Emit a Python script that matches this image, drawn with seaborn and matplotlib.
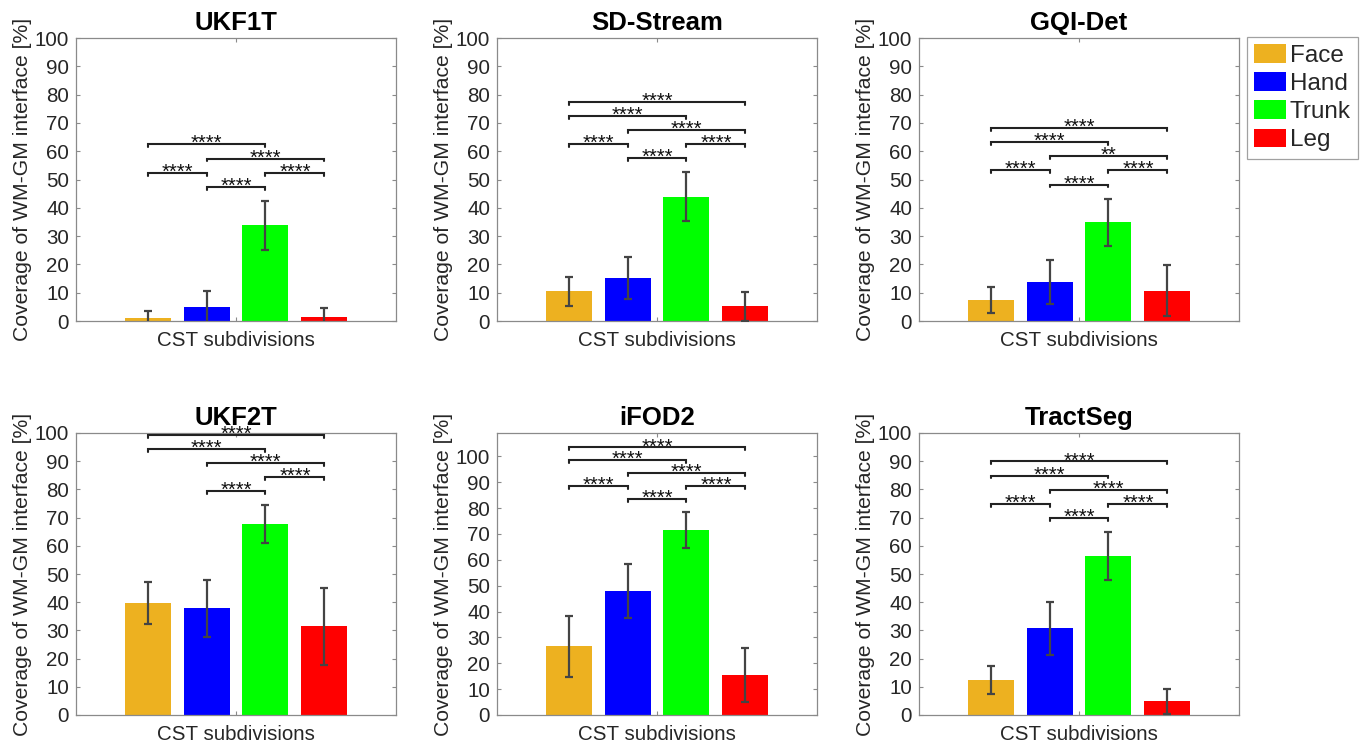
import numpy as np
import pandas as pd
import matplotlib
matplotlib.use("Agg")
import matplotlib.pyplot as plt
from matplotlib.patches import Patch
import seaborn as sns

# ---------------- data ----------------
parts = ["Face", "Hand", "Trunk", "Leg"]
colors = ["#EDB120", "#0000FF", "#00FF00", "#FF0000"]
methods = ["UKF1T", "SD-Stream", "GQI-Det", "UKF2T", "iFOD2", "TractSeg"]

ukf1t_mean = [1.1, 4.8, 33.8, 1.4]
ukf1t_std = [2.3, 5.7, 8.6, 3.2]
sdstream_mean = [10.5, 15.2, 43.9, 5.2]
sdstream_std = [5.1, 7.4, 8.6, 5.1]
gqidet_mean = [7.4, 13.7, 34.9, 10.7]
gqidet_std = [4.7, 7.7, 8.3, 9.1]
ukf2t_mean = [39.8, 37.8, 67.7, 31.5]
ukf2t_std = [7.5, 10.1, 6.6, 13.7]
ifod2_mean = [26.6, 47.9, 71.4, 15.4]
ifod2_std = [11.8, 10.4, 7.0, 10.4]
tractseg_mean = [12.4, 30.7, 56.3, 4.8]
tractseg_std = [5.1, 9.3, 8.6, 4.4]

# comparisons: (i, j) pairs and significance labels per method
pairs = [(0, 1), (1, 2), (2, 3), (1, 3), (0, 2), (0, 3)]
ukf1t_sig = ["****", "****", "****", "****", "****", ""]
sdstream_sig = ["****", "****", "****", "****", "****", "****"]
gqidet_sig = ["****", "****", "****", "**", "****", "****"]
ukf2t_sig = ["", "****", "****", "****", "****", "****"]
ifod2_sig = ["****", "****", "****", "****", "****", "****"]
tractseg_sig = ["****", "****", "****", "****", "****", "****"]

y_max = [100, 100, 100, 100, 109, 100]
y_ticks = list(range(0, 101, 10))
xlabel = "CST subdivisions"
ylabel = "Coverage of WM-GM interface [%]"

means = [ukf1t_mean, sdstream_mean, gqidet_mean, ukf2t_mean, ifod2_mean, tractseg_mean]
stds = [ukf1t_std, sdstream_std, gqidet_std, ukf2t_std, ifod2_std, tractseg_std]
sigs = [ukf1t_sig, sdstream_sig, gqidet_sig, ukf2t_sig, ifod2_sig, tractseg_sig]

# ---------------- style ----------------
sns.set_theme(style="white")
plt.rcParams["font.family"] = ["Liberation Sans", "DejaVu Sans"]
plt.rcParams["axes.edgecolor"] = "#8a8a8a"
plt.rcParams["axes.linewidth"] = 0.9

fig = plt.figure(figsize=(13.64, 7.48), dpi=100)
W, H = 1364.0, 748.0
lefts = [76, 497, 919]
tops = [38, 433]
bottoms = [321, 715]
aw = 320

level_of = {(0, 1): 1, (1, 2): 0, (2, 3): 1, (1, 3): 2, (0, 2): 3, (0, 3): 4}
palette = dict(zip(parts, colors))

for k, name in enumerate(methods):
    r, c = divmod(k, 3)
    ax = fig.add_axes([lefts[c] / W, 1 - bottoms[r] / H, aw / W, (bottoms[r] - tops[r]) / H])
    df = pd.DataFrame({"group": [xlabel] * 4, "part": parts, "value": means[k]})
    sns.barplot(data=df, x="group", y="value", hue="part", hue_order=parts,
                palette=palette, width=0.736, gap=0.217, errorbar=None,
                legend=False, saturation=1, ax=ax, edgecolor="none")
    bars = sorted([p for p in ax.patches], key=lambda p: p.get_x())
    xc = [p.get_x() + p.get_width() / 2 for p in bars]
    ax.errorbar(xc, means[k], yerr=stds[k], fmt="none", ecolor="#444444",
                elinewidth=1.6, capsize=3.2, capthick=1.6, zorder=5)
    # significance brackets
    top = max(m + s for m, s in zip(means[k], stds[k]))
    for (i, j), lab in zip(pairs, sigs[k]):
        if not lab:
            continue
        yb = top + 5 * (level_of[(i, j)] + 1)
        ax.plot([xc[i], xc[i], xc[j], xc[j]], [yb - 1.0, yb, yb, yb - 1.0],
                color="#222222", lw=1.5, clip_on=False, zorder=6,
                solid_joinstyle="miter")
        ax.annotate(lab, xy=((xc[i] + xc[j]) / 2, yb), xytext=(0, -3.5),
                    textcoords="offset points", ha="center", va="baseline",
                    fontsize=14.5, color="#111111", annotation_clip=False)
    ax.set_xlim(-0.5, 0.5)
    ax.set_ylim(0, y_max[k])
    ax.set_yticks(y_ticks)
    ax.set_xticks([0])
    ax.set_xticklabels([""])
    ax.set_xlabel(xlabel, fontsize=14.8, color="#262626", labelpad=2)
    ax.set_ylabel(ylabel, fontsize=15.2, color="#262626", labelpad=2)
    ax.set_title(name, fontsize=18.5, fontweight="bold", pad=6, color="black")
    ax.tick_params(axis="both", which="both", direction="in", length=3,
                   color="#8a8a8a", width=0.8, labelsize=14.8, labelcolor="#262626",
                   top=True, right=True, bottom=True, left=True, pad=5)
    for s in ax.spines.values():
        s.set_visible(True)
        s.set_color("#8a8a8a")

handles = [Patch(facecolor=col, edgecolor="none", label=p) for p, col in zip(parts, colors)]
leg = fig.legend(handles=handles, loc="upper left",
                 bbox_to_anchor=(1247 / W, 1 - 37 / H), fontsize=17.5,
                 frameon=True, fancybox=False, edgecolor="#8a8a8a",
                 handlelength=1.3, handleheight=0.8, handletextpad=0.15,
                 labelspacing=0.22, borderpad=0.3, borderaxespad=0)
leg.get_frame().set_linewidth(0.9)

fig.savefig("out.png", dpi=100)
